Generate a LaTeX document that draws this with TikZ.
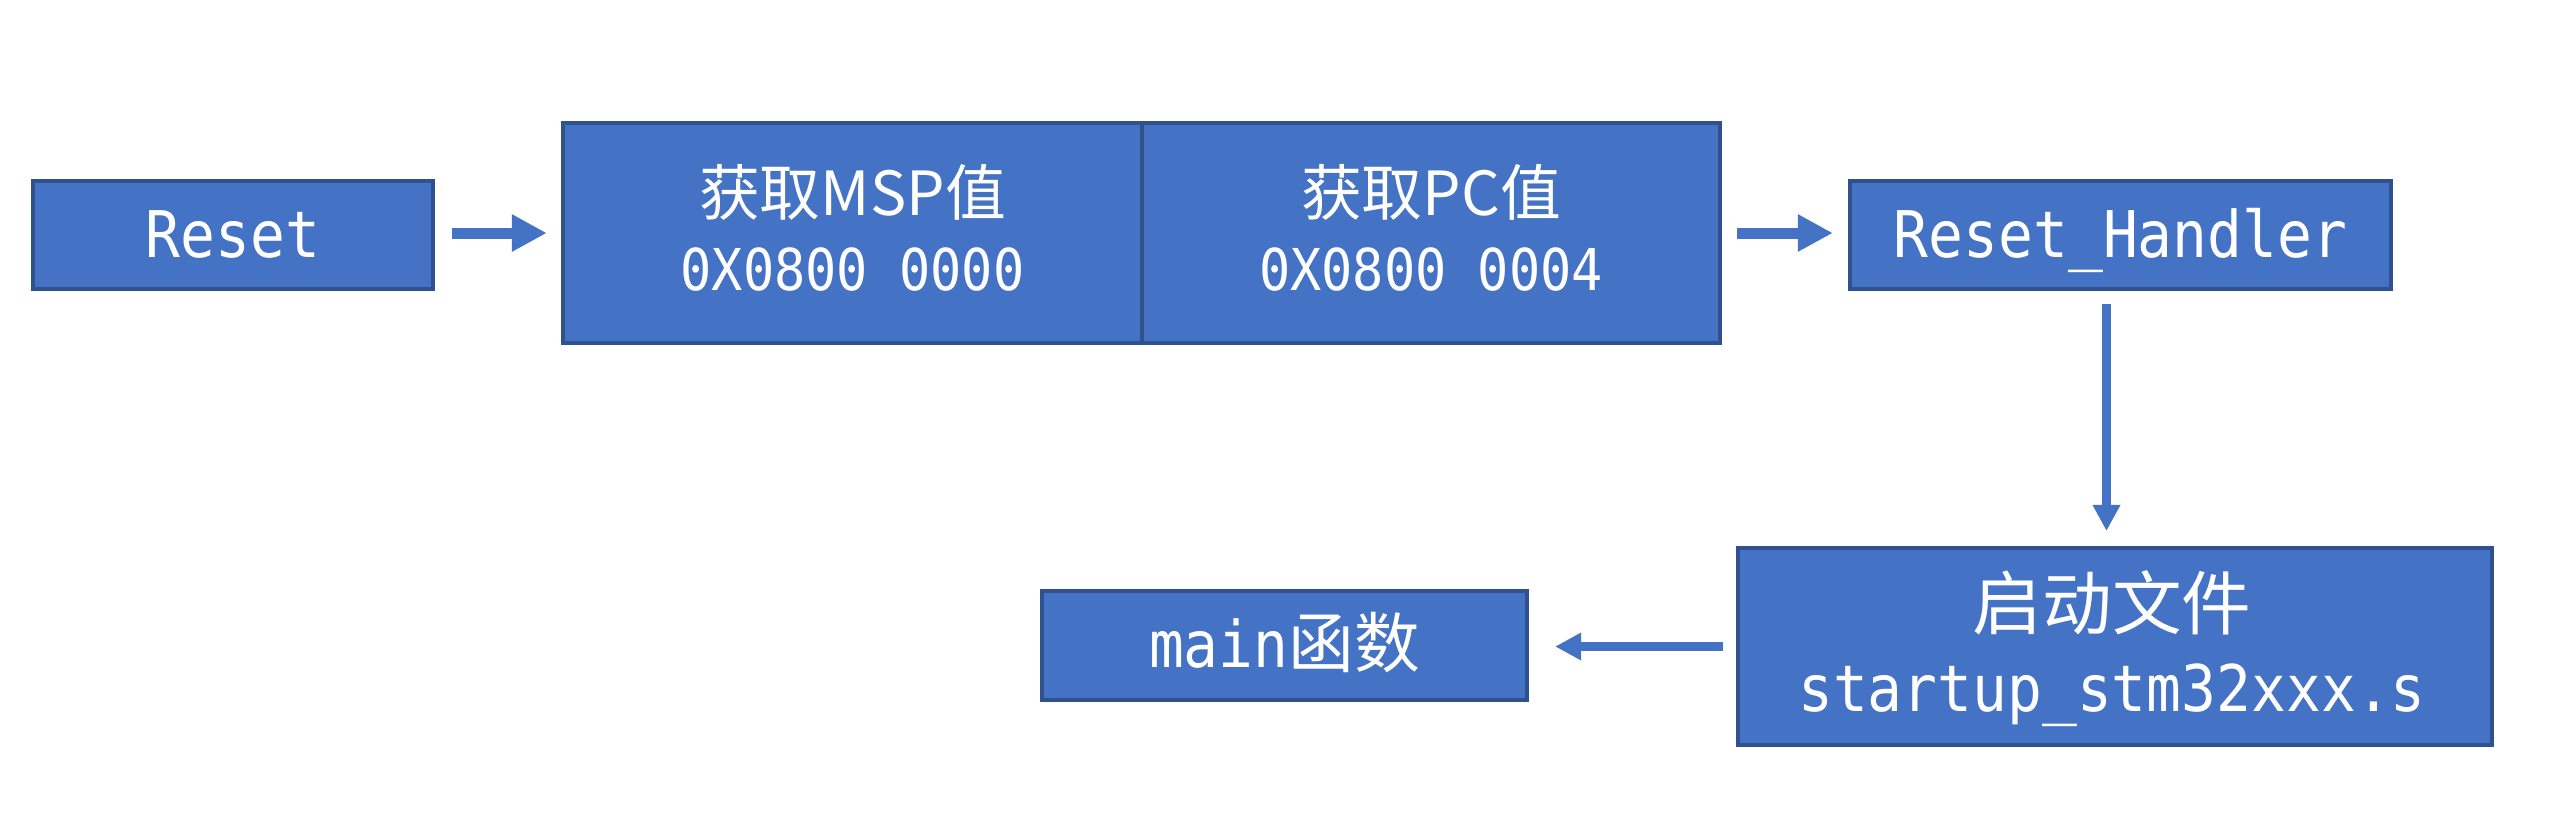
\documentclass[tikz,border=0pt]{standalone}
\usepackage{fontspec}
\usetikzlibrary{arrows.meta}
\newfontfamily\codefont{DejaVu Sans Mono}[FakeStretch=0.9]
\newfontfamily\cjk{Noto Sans CJK SC}
\definecolor{boxblue}{HTML}{4472C4}
\definecolor{boxline}{HTML}{2F528F}
\tikzset{
	blk/.style={draw=boxline,fill=boxblue,line width=0.04cm,inner sep=0pt,text=white,text height=0.44cm,text depth=0pt},
	txt/.style={text=white,inner sep=0pt,anchor=base},
	bigarr/.style={draw=boxblue,line width=0.11cm,-{Triangle[length=0.35cm,width=0.35cm]}},
	smallarr/.style={draw=boxblue,line width=0.09cm,-{Triangle[length=0.26cm,width=0.26cm]}}
}
\newcommand{\mono}{\codefont\fontsize{18.3}{22}\selectfont}
\newcommand{\addr}{\codefont\fontsize{16.4}{20}\selectfont}

\begin{document}
\begin{tikzpicture}[x=0.01cm,y=-0.01cm]
	\useasboundingbox (0,0) rectangle (2574,817);
	\node[blk,minimum width=4cm,minimum height=1.08cm] (reset) at (233,235) {\mono Reset};
	\node[blk,minimum width=5.79cm,minimum height=2.2cm] (msp) at (852.5,233) {};
	\node[blk,minimum width=5.78cm,minimum height=2.2cm] (pc) at (1431,233) {};
	\node[blk,minimum width=5.41cm,minimum height=1.08cm] (rh) at (2120.5,235) {\mono Reset\_Handler};
	\node[blk,minimum width=7.54cm,minimum height=1.97cm] (st) at (2115,646.5) {};
	\node[blk,minimum width=4.85cm,minimum height=1.09cm] (main) at (1284.5,645.5) {\mono main{\cjk\fontsize{18.7}{22}\selectfont 函数}};
	% two-line boxes
	\node[txt] (msp1) at ([yshift=0.18cm]msp.center) {\cjk\fontsize{17.3}{21}\selectfont 获取MSP值};
	\node[txt] (msp2) at ([yshift=-0.575cm]msp.center) {\addr 0X0800 0000};
	\node[txt] (pc1) at ([yshift=0.18cm]pc.center) {\cjk\fontsize{17.3}{21}\selectfont 获取PC值};
	\node[txt] (pc2) at ([yshift=-0.575cm]pc.center) {\addr 0X0800 0004};
	\node[txt] (st1) at ([xshift=-0.03cm,yshift=0.17cm]st.center) {\cjk\fontsize{19.8}{24}\selectfont 启动文件};
	\node[txt] (st2) at ([xshift=-0.03cm,yshift=-0.645cm]st.center) {\mono startup\_stm32xxx.s};
	% arrows
	\draw[bigarr,shorten <=0.17cm,shorten >=0.14cm] (reset.east |- msp.west) -- (msp.west);
	\draw[bigarr,shorten <=0.15cm,shorten >=0.15cm] (pc.east) -- (pc.east -| rh.west);
	\draw[smallarr,shorten <=0.13cm,shorten >=0.15cm] ([xshift=-0.14cm]rh.south) -- ([xshift=-0.14cm]rh.south |- st.north);
	\draw[smallarr,shorten <=0.13cm,shorten >=0.26cm] (st.west) -- (st.west -| main.east);
\end{tikzpicture}
\end{document}
